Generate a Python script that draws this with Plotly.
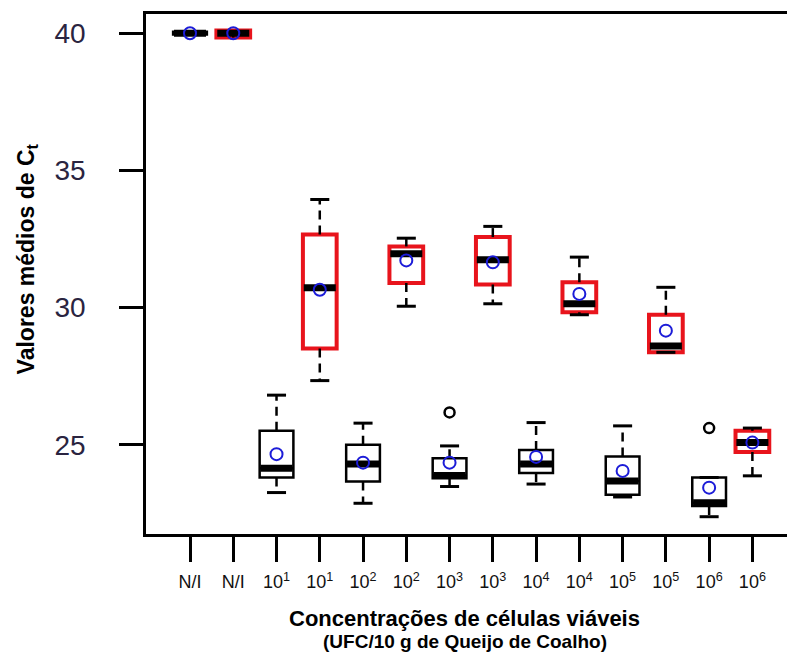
import plotly.graph_objects as go

# Concentration levels (two replicate methods per level)
concentracoes = ["N/I", "10<sup>1</sup>", "10<sup>2</sup>", "10<sup>3</sup>",
                 "10<sup>4</sup>", "10<sup>5</sup>", "10<sup>6</sup>"]

# Series A (black boxes): Ct summary statistics
a_q1 = [39.95, 23.81, 23.66, 23.78, 23.97, 23.18, 22.77]
a_median = [40.00, 24.15, 24.30, 23.88, 24.30, 23.68, 22.89]
a_q3 = [40.05, 25.51, 25.00, 24.51, 24.81, 24.57, 23.81]
a_lower = [40.00, 23.26, 22.87, 23.48, 23.57, 23.10, 22.38]
a_upper = [40.00, 26.81, 25.79, 24.96, 25.81, 25.69, 23.81]
a_mean = [40.00, 24.66, 24.35, 24.35, 24.56, 24.05, 23.44]
a_outliers = [[], [], [], [26.18], [], [], [25.61]]

# Series B (red boxes): Ct summary statistics
b_q1 = [39.84, 28.51, 30.90, 30.84, 29.83, 28.37, 24.74]
b_median = [40.00, 30.72, 31.96, 31.74, 30.14, 28.60, 25.08]
b_q3 = [40.10, 32.66, 32.23, 32.57, 30.92, 29.74, 25.51]
b_lower = [40.00, 27.34, 30.05, 30.14, 29.74, 28.37, 23.87]
b_upper = [40.00, 33.94, 32.53, 32.96, 31.84, 30.74, 25.61]
b_mean = [40.00, 30.65, 31.72, 31.65, 30.50, 29.16, 25.08]
b_outliers = [[], [], [], [], [], [], []]

y_ticks = [25, 30, 35, 40]

BOX_W = 0.78
CAP_HALF = 0.22
MED_HALF = 0.37
FONT = "Liberation Sans, Arial, sans-serif"

n = len(concentracoes)
pos_a = [2 * i + 1 for i in range(n)]
pos_b = [2 * i + 2 for i in range(n)]

fig = go.Figure()


def add_series(pos, q1, med, q3, lo, up, mean, outl, color, lw):
    # whiskers (dashed, drawn outward from the box) and staples
    wx, wy, cx, cy = [], [], [], []
    for x, a, b, l, u in zip(pos, q1, q3, lo, up):
        wx += [x, x, None, x, x, None]
        wy += [a, l, None, b, u, None]
        cx += [x - CAP_HALF, x + CAP_HALF, None, x - CAP_HALF, x + CAP_HALF, None]
        cy += [l, l, None, u, u, None]
    fig.add_trace(go.Scatter(x=wx, y=wy, mode="lines",
                             line=dict(color="black", width=2.5, dash="9px,6px"),
                             hoverinfo="skip", showlegend=False))
    fig.add_trace(go.Scatter(x=cx, y=cy, mode="lines",
                             line=dict(color="black", width=3),
                             hoverinfo="skip", showlegend=False))
    # boxes
    fig.add_trace(go.Box(x=pos, q1=q1, median=med, q3=q3,
                         lowerfence=q1, upperfence=q3,
                         width=BOX_W, fillcolor="white",
                         line=dict(color=color, width=lw),
                         boxpoints=False, showlegend=False))
    # thick medians
    mx, my = [], []
    for x, m in zip(pos, med):
        mx += [x - MED_HALF, x + MED_HALF, None]
        my += [m, m, None]
    fig.add_trace(go.Scatter(x=mx, y=my, mode="lines",
                             line=dict(color="black", width=7),
                             hoverinfo="skip", showlegend=False))
    # means
    fig.add_trace(go.Scatter(x=pos, y=mean, mode="markers",
                             marker=dict(symbol="circle-open", size=12,
                                         color="#1c1cd8",
                                         line=dict(width=2, color="#1c1cd8")),
                             showlegend=False))
    # outliers
    ox, oy = [], []
    for x, vals in zip(pos, outl):
        for v in vals:
            ox.append(x)
            oy.append(v)
    if ox:
        fig.add_trace(go.Scatter(x=ox, y=oy, mode="markers",
                                 marker=dict(symbol="circle-open", size=10,
                                             color="black",
                                             line=dict(width=2.5, color="black")),
                                 showlegend=False))


add_series(pos_a, a_q1, a_median, a_q3, a_lower, a_upper, a_mean, a_outliers,
           "black", 2.5)
add_series(pos_b, b_q1, b_median, b_q3, b_lower, b_upper, b_mean, b_outliers,
           "#e8141c", 4)

tick_pos = []
tick_txt = []
for i, c in enumerate(concentracoes):
    tick_pos += [pos_a[i], pos_b[i]]
    tick_txt += [c, c]

fig.update_layout(
    width=787, height=655,
    margin=dict(l=146, r=0, t=14, b=121),
    plot_bgcolor="white", paper_bgcolor="white",
    showlegend=False,
    font=dict(family=FONT, color="black"),
    xaxis=dict(
        range=[-0.017, 14.80], tickmode="array", tickvals=tick_pos,
        ticktext=tick_txt, ticks="outside", ticklen=25, tickwidth=2.5,
        tickcolor="black", showline=True, linecolor="black", linewidth=2.5,
        mirror=True, showgrid=False, zeroline=False,
        tickfont=dict(size=18, color="#111"), ticklabelstandoff=5,
    ),
    yaxis=dict(
        range=[21.75, 40.70], tickmode="array", tickvals=y_ticks,
        ticks="outside", ticklen=24, tickwidth=2.5, tickcolor="black",
        showline=True, linecolor="black", linewidth=2.5, mirror=False,
        showgrid=False, zeroline=False,
        tickfont=dict(size=28, color="#2a2440"), ticklabelstandoff=28,
    ),
    annotations=[
        dict(text="<b>Valores médios de C<sub>t</sub></b>", xref="paper", yref="paper",
             x=(27 - 146) / 641, y=0.53, xanchor="center", yanchor="middle",
             textangle=-90, showarrow=False, font=dict(size=23, color="black")),
        dict(text="<b>Concentrações de células viáveis</b>", xref="paper",
             yref="paper", x=0.497, y=-(619 - 534.3) / 520.3,
             xanchor="center", yanchor="middle", showarrow=False,
             font=dict(size=22, color="black")),
        dict(text="<b>(UFC/10 g de Queijo de Coalho)</b>", xref="paper",
             yref="paper", x=0.497, y=-(642 - 534.3) / 520.3,
             xanchor="center", yanchor="middle", showarrow=False,
             font=dict(size=19, color="black")),
    ],
)

fig.write_html("out.html")
